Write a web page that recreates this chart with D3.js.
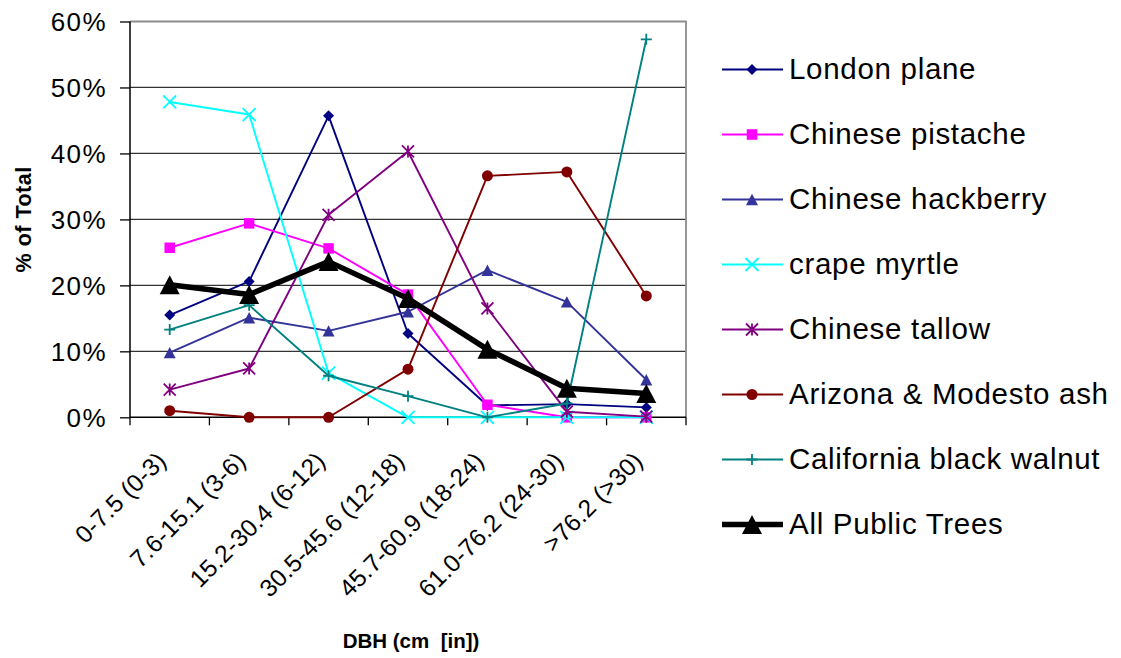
<!DOCTYPE html>
<html>
<head>
<meta charset="utf-8">
<script src="https://cdn.jsdelivr.net/npm/d3@7"></script>
<style>
  html, body { margin: 0; padding: 0; background: #fff; }
  svg { display: block; }
  text { font-family: "Liberation Sans", Arial, Helvetica, sans-serif; fill: #000; }
</style>
</head>
<body>
<svg id="chart" width="1121" height="658"></svg>
<script>
// DBH size classes (cm [in])
const categories = ["0-7.5 (0-3)", "7.6-15.1 (3-6)", "15.2-30.4 (6-12)", "30.5-45.6 (12-18)",
                    "45.7-60.9 (18-24)", "61.0-76.2 (24-30)", ">76.2 (>30)"];

// Share of each species' trees in each size class (%)
const londonPlane      = [15.5, 20.6, 45.7, 12.7, 1.8, 2.0, 1.5];
const chinesePistache  = [25.7, 29.4, 25.6, 18.6, 1.9, 0.0, 0.0];
const chineseHackberry = [9.8, 15.1, 13.1, 16.0, 22.3, 17.5, 5.7];
const crapeMyrtle      = [47.8, 45.9, 6.7, 0.0, 0.0, 0.0, 0.0];
const chineseTallow    = [4.2, 7.4, 30.7, 40.3, 16.5, 0.85, 0.1];
const arizonaAsh       = [1.0, 0.0, 0.0, 7.3, 36.6, 37.2, 18.4];
const blackWalnut      = [13.3, 17.0, 6.3, 3.2, 0.0, 2.1, 57.3];
const allPublicTrees   = [20.1, 18.6, 23.6, 18.0, 10.3, 4.4, 3.6];

const seriesNames = ["London plane", "Chinese pistache", "Chinese hackberry", "crape myrtle",
                     "Chinese tallow", "Arizona & Modesto ash", "California black walnut", "All Public Trees"];
const seriesValues = [londonPlane, chinesePistache, chineseHackberry, crapeMyrtle,
                      chineseTallow, arizonaAsh, blackWalnut, allPublicTrees];

const yTicks = [0, 10, 20, 30, 40, 50, 60];

// styling per series
const styles = [
  { color: "#000080", marker: "diamond",  size: 11, width: 1.9 },
  { color: "#FF00FF", marker: "square",   size: 10.5, width: 1.9 },
  { color: "#333399", marker: "triangle", size: 12, width: 1.9 },
  { color: "#00FFFF", marker: "x",        size: 13, width: 1.9 },
  { color: "#800080", marker: "asterisk", size: 12, width: 1.9 },
  { color: "#800000", marker: "circle",   size: 11, width: 1.9 },
  { color: "#008080", marker: "plus",     size: 11, width: 1.9 },
  { color: "#000000", marker: "triangle", size: 20, width: 5.5 }
];

const svg = d3.select("#chart");
const plot = { left: 130, right: 686, top: 21.5, bottom: 417.3 };

const x = d3.scaleBand().domain(categories).range([plot.left, plot.right]).padding(0);
const y = d3.scaleLinear().domain([0, 60]).range([plot.bottom, plot.top]);

// gridlines
svg.append("g").selectAll("line").data(yTicks.filter(d => d > 0)).join("line")
  .attr("x1", plot.left).attr("x2", plot.right)
  .attr("y1", d => y(d)).attr("y2", d => y(d))
  .attr("stroke", "#333").attr("stroke-width", 1.2);

// plot-area border (top and right)
svg.append("path")
  .attr("d", `M${plot.left},${plot.top}H${plot.right}V${plot.bottom}`)
  .attr("fill", "none").attr("stroke", "#8c8c8c").attr("stroke-width", 1.8);

// y axis
const yAxis = d3.axisLeft(y).tickValues(yTicks).tickFormat(d => d + "%").tickSize(10).tickPadding(13);
const gy = svg.append("g").attr("transform", `translate(${plot.left},0)`).call(yAxis);
gy.select(".domain").attr("stroke", "#000").attr("stroke-width", 1.5).attr("d", `M0,${plot.top}V${plot.bottom}`);
gy.selectAll(".tick line").attr("stroke", "#000").attr("stroke-width", 1.3);
gy.selectAll(".tick text").attr("font-size", 26).attr("dy", "0.36em").attr("letter-spacing", 1.4)
  .style("font-family", '"Liberation Sans", Arial, sans-serif');

// x axis with ticks on category boundaries
const gx = svg.append("g").attr("transform", `translate(0,${plot.bottom})`);
gx.append("line").attr("x1", plot.left).attr("x2", plot.right).attr("y1", 0).attr("y2", 0)
  .attr("stroke", "#000").attr("stroke-width", 1.5);
const boundaries = categories.map(c => x(c)).concat([x(categories[categories.length - 1]) + x.bandwidth()]);
gx.selectAll("line.tk").data(boundaries).join("line").attr("class", "tk")
  .attr("x1", d => d).attr("x2", d => d).attr("y1", 0).attr("y2", 8)
  .attr("stroke", "#000").attr("stroke-width", 1.3);
gx.selectAll("text").data(categories).join("text")
  .attr("transform", d => `translate(${x(d) + x.bandwidth() / 2 - 2},${45}) rotate(-45)`)
  .attr("text-anchor", "end").attr("font-size", 24.5).attr("letter-spacing", 0.2).text(d => d);

// axis titles
svg.append("text").attr("transform", `translate(31,${(plot.top + plot.bottom) / 2}) rotate(-90)`)
  .attr("text-anchor", "middle").attr("font-size", 21.5).attr("letter-spacing", 0.5)
  .attr("font-weight", "bold").text("% of Total");
svg.append("text").attr("x", 411).attr("y", 648).attr("text-anchor", "middle")
  .attr("font-size", 20.5).attr("font-weight", "bold").style("white-space", "pre").text("DBH (cm  [in])");

// marker drawing
function drawMarker(g, st) {
  const s = st.size, h = s / 2;
  const c = st.color;
  switch (st.marker) {
    case "diamond":
      g.append("path").attr("d", `M0,${-h}L${h},0L0,${h}L${-h},0Z`).attr("fill", c); break;
    case "square":
      g.append("rect").attr("x", -h).attr("y", -h).attr("width", s).attr("height", s).attr("fill", c); break;
    case "triangle":
      g.append("path").attr("d", `M0,${-h * 0.95}L${h},${h * 0.95}L${-h},${h * 0.95}Z`).attr("fill", c); break;
    case "circle":
      g.append("circle").attr("r", h).attr("fill", c); break;
    case "x":
      g.append("path").attr("d", `M${-h},${-h}L${h},${h}M${-h},${h}L${h},${-h}`)
        .attr("stroke", c).attr("stroke-width", 1.8).attr("fill", "none"); break;
    case "asterisk":
      g.append("path").attr("d", `M${-h},${-h}L${h},${h}M${-h},${h}L${h},${-h}M0,${-h}L0,${h}`)
        .attr("stroke", c).attr("stroke-width", 1.8).attr("fill", "none"); break;
    case "plus":
      g.append("path").attr("d", `M${-h},0L${h},0M0,${-h}L0,${h}`)
        .attr("stroke", c).attr("stroke-width", 1.8).attr("fill", "none"); break;
  }
}

// series lines and markers
const line = d3.line().x((d, i) => x(categories[i]) + x.bandwidth() / 2).y(d => y(d));
seriesValues.forEach((vals, k) => {
  const st = styles[k];
  const g = svg.append("g").attr("class", "series");
  g.append("path").datum(vals).attr("d", line).attr("fill", "none")
    .attr("stroke", st.color).attr("stroke-width", st.width).attr("stroke-linejoin", "round");
  vals.forEach((v, i) => {
    const m = g.append("g").attr("transform", `translate(${x(categories[i]) + x.bandwidth() / 2},${y(v)})`);
    drawMarker(m, st);
  });
});

// legend
const legend = svg.append("g");
seriesNames.forEach((name, k) => {
  const st = styles[k];
  const ly = 69.5 + k * 65;
  const row = legend.append("g").attr("transform", `translate(0,${ly})`);
  row.append("line").attr("x1", 722).attr("x2", 783).attr("y1", 0).attr("y2", 0)
    .attr("stroke", st.color).attr("stroke-width", k === 7 ? 5.5 : 1.9);
  const m = row.append("g").attr("transform", "translate(752,0)");
  drawMarker(m, st);
  row.append("text").attr("x", 789).attr("y", 9.5).attr("font-size", 29.5).attr("letter-spacing", 0.7).text(name);
});
</script>
</body>
</html>
